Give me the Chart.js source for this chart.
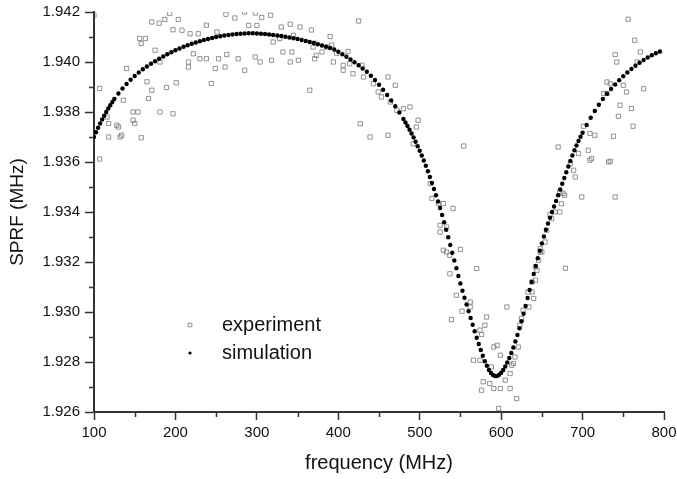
<!DOCTYPE html>
<html>
<head>
<meta charset="utf-8">
<script src="https://cdn.jsdelivr.net/npm/chart.js@4.4.1/dist/chart.umd.min.js"></script>
<style>
  html, body { margin: 0; padding: 0; background: #fff; }
  #wrap { width: 677px; height: 479px; }
</style>
</head>
<body>
<div id="wrap"><canvas id="sprfChart" width="677" height="479"></canvas></div>
<script>
// measured points (open squares)
const expFreq = [
  100, 193, 203.5, 171, 180, 187, 262, 273, 285, 298, 306, 317, 238, 290, 300, 330, 341, 353,
  197, 208, 218, 228, 251, 156, 163, 158, 328, 345, 320, 332, 343, 351, 369, 373, 386, 175,
  222, 230, 238, 253, 263, 277, 298, 304, 318, 341, 181, 216, 216, 140, 249, 261, 285, 107,
  165, 171, 189, 201, 244, 365, 136, 148, 154, 167, 181, 197, 148, 116, 130, 118, 158, 132,
  107, 118, 128, 150, 134,
  425, 367, 390, 392, 398, 412, 371, 380, 371, 394, 406, 414, 429, 406, 418, 431, 461, 470,
  443, 449, 453, 464, 472, 480, 488, 498, 496, 427, 439, 461, 492, 554,
  513, 515, 523, 529, 541, 525, 533, 525, 550, 529, 537, 533, 570, 537, 545, 562, 562, 552,
  539, 582, 576, 595, 599, 566, 574, 588, 607, 578, 586, 576, 591, 599, 611, 605, 611, 619,
  597, 615, 621, 638, 640, 634, 642, 644, 646, 648, 627, 625, 623,
  580, 574, 591, 613, 617, 638,
  672, 678, 674, 666, 662, 672, 660, 699, 740, 656, 654, 650, 679,
  756, 764, 771, 740, 742, 767, 730, 734, 775, 750, 754, 726, 730, 746, 760, 744, 762, 701,
  709, 715, 738, 670, 695, 707, 711, 734, 689, 691, 676,
  685, 732, 709, 648, 642, 633
];
const expSprf = [
  1.94187, 1.94194, 1.94170, 1.94160, 1.94155, 1.94170, 1.94191, 1.94176, 1.94200, 1.94196, 1.94178, 1.94187, 1.94147, 1.94146, 1.94146, 1.94140, 1.94151, 1.94140,
  1.94129, 1.94127, 1.94113, 1.94113, 1.94120, 1.94094, 1.94094, 1.94074, 1.94094, 1.94107, 1.94080, 1.94040, 1.94040, 1.94007, 1.94060, 1.94027, 1.94060, 1.94047,
  1.94033, 1.94013, 1.94013, 1.94013, 1.94030, 1.94013, 1.94020, 1.94000, 1.94007, 1.94000, 1.94000, 1.94000, 1.93980, 1.93974, 1.93974, 1.93980, 1.93967, 1.93894,
  1.93921, 1.93887, 1.93898, 1.93917, 1.93914, 1.93887, 1.93847, 1.93800, 1.93800, 1.93854, 1.93800, 1.93793, 1.93767, 1.93780, 1.93740, 1.93700, 1.93697, 1.93700,
  1.93612, 1.93754, 1.93747, 1.93754, 1.93707,
  1.94164, 1.94128, 1.94102, 1.94068, 1.94035, 1.94042, 1.94075, 1.94040, 1.94013, 1.94000, 1.93987, 1.93993, 1.93987, 1.93967, 1.93953, 1.93940, 1.93940, 1.93907,
  1.93913, 1.93880, 1.93860, 1.93840, 1.93807, 1.93813, 1.93820, 1.93767, 1.93740, 1.93753, 1.93700, 1.93707, 1.93673, 1.93664,
  1.93514, 1.93454, 1.93434, 1.93434, 1.93414, 1.93347, 1.93340, 1.93320, 1.93250, 1.93247, 1.93227, 1.93240, 1.93174, 1.93153, 1.93067, 1.93040, 1.93020, 1.93003,
  1.92970, 1.92980, 1.92910, 1.92867, 1.92827, 1.92807, 1.92807, 1.92780, 1.93020, 1.92721, 1.92714, 1.92687, 1.92694, 1.92694, 1.92694, 1.92727, 1.92754, 1.92654,
  1.92614, 1.92794, 1.92860, 1.93080, 1.93054, 1.93020, 1.93127, 1.93167, 1.93207, 1.93240, 1.93007, 1.92974, 1.92947,
  1.92947, 1.92927, 1.92860, 1.92787, 1.92820, 1.93120,
  1.93480, 1.93467, 1.93433, 1.93400, 1.93373, 1.93400, 1.93390, 1.93460, 1.93460, 1.93327, 1.93280, 1.93240, 1.93175,
  1.94171, 1.94087, 1.94040, 1.94030, 1.94000, 1.94000, 1.93920, 1.93913, 1.93893, 1.93907, 1.93880, 1.93874, 1.93874, 1.93827, 1.93814, 1.93783, 1.93743, 1.93743,
  1.93714, 1.93707, 1.93703, 1.93660, 1.93634, 1.93647, 1.93614, 1.93603, 1.93567, 1.93540, 1.93474,
  1.93594, 1.93600, 1.93607, 1.93253, 1.93180, 1.93080
];

// simulated curve (filled dots)
const simFreq = [
  100, 102.5, 105, 107.5, 110, 112.5, 115, 117.5, 120, 122.5, 125, 130, 135, 140, 145, 150, 155, 160,
  165, 170, 175, 180, 185, 190, 195, 200, 205, 210, 215, 220, 225, 230, 235, 240, 245, 250,
  255, 260, 265, 270, 275, 280, 285, 290, 295, 300, 305, 310, 315, 320, 325, 330, 335, 340,
  345, 350, 355, 360, 365, 370, 375, 380, 385, 390, 395, 400, 405, 410, 415, 420, 425, 430,
  435, 440, 445, 450, 455, 460, 465, 470, 475, 480, 482.5, 485, 487.5, 490, 492.5, 495, 497.5,
  500, 502.5, 505, 507.5, 510, 512.5, 515, 517.5, 520, 522.5, 525, 527.5, 530, 532.5, 535, 537.5,
  540, 542.5, 545, 547.5, 550, 552.5, 555, 557.5, 560, 562.5, 565, 567.5, 570, 572.5, 575, 577.5,
  580, 582.5, 585, 587.5, 590, 592.5, 595, 597.5, 600, 602.5, 605, 607.5, 610, 612.5, 615, 617.5,
  620, 622.5, 625, 627.5, 630, 632.5, 635, 637.5, 640, 642.5, 645, 647.5, 650, 652.5, 655, 657.5,
  660, 662.5, 665, 667.5, 670, 672.5, 675, 677.5, 680, 682.5, 685, 687.5, 690, 692.5, 695, 697.5,
  700, 705, 710, 715, 720, 725, 730, 735, 740, 745, 750, 755, 760, 765, 770, 775, 780, 785, 790, 795
];
const simSprf = [
  1.93700, 1.93719, 1.93737, 1.93754, 1.93770, 1.93785, 1.93800, 1.93814, 1.93827, 1.93840, 1.93852, 1.93874, 1.93894, 1.93912, 1.93929, 1.93944, 1.93958, 1.93971,
  1.93982, 1.93993, 1.94003, 1.94013, 1.94022, 1.94031, 1.94039, 1.94047, 1.94054, 1.94061, 1.94067, 1.94073, 1.94078, 1.94083, 1.94088, 1.94092, 1.94096, 1.94100,
  1.94103, 1.94106, 1.94108, 1.94110, 1.94112, 1.94113, 1.94114, 1.94115, 1.94115, 1.94114, 1.94113, 1.94112, 1.94110, 1.94108, 1.94106, 1.94104, 1.94101, 1.94098,
  1.94095, 1.94092, 1.94088, 1.94084, 1.94080, 1.94076, 1.94071, 1.94066, 1.94061, 1.94056, 1.94050, 1.94041, 1.94031, 1.94021, 1.94010, 1.93999, 1.93987, 1.93974,
  1.93961, 1.93945, 1.93928, 1.93909, 1.93889, 1.93868, 1.93846, 1.93823, 1.93798, 1.93772, 1.93758, 1.93744, 1.93729, 1.93714, 1.93698, 1.93681, 1.93663,
  1.93645, 1.93626, 1.93606, 1.93585, 1.93563, 1.93540, 1.93516, 1.93492, 1.93467, 1.93442, 1.93416, 1.93388, 1.93359, 1.93329, 1.93299, 1.93268,
  1.93237, 1.93206, 1.93175, 1.93144, 1.93114, 1.93085, 1.93057, 1.93030, 1.93003, 1.92976, 1.92949, 1.92923, 1.92897, 1.92872, 1.92848, 1.92825,
  1.92803, 1.92785, 1.92768, 1.92756, 1.92748, 1.92744, 1.92744, 1.92749, 1.92757, 1.92768, 1.92782, 1.92798, 1.92816, 1.92836, 1.92858, 1.92882,
  1.92908, 1.92935, 1.92963, 1.92993, 1.93024, 1.93056, 1.93088, 1.93120, 1.93152, 1.93184, 1.93215, 1.93245, 1.93274, 1.93302, 1.93329, 1.93354,
  1.93377, 1.93400, 1.93422, 1.93444, 1.93467, 1.93490, 1.93513, 1.93536, 1.93559, 1.93582, 1.93604, 1.93626, 1.93647, 1.93666, 1.93684, 1.93701,
  1.93717, 1.93748, 1.93777, 1.93804, 1.93829, 1.93852, 1.93873, 1.93892, 1.93910, 1.93927, 1.93943, 1.93958, 1.93972, 1.93985, 1.93997, 1.94008, 1.94018, 1.94027, 1.94035, 1.94042
];

const xTicks = [100, 200, 300, 400, 500, 600, 700, 800];
const yTicks = [1.926, 1.928, 1.930, 1.932, 1.934, 1.936, 1.938, 1.940, 1.942];
const xMinor = [150, 250, 350, 450, 550, 650, 750];
const yMinor = [1.927, 1.929, 1.931, 1.933, 1.935, 1.937, 1.939, 1.941];
const seriesNames = ['experiment', 'simulation'];

const FONT = "'Liberation Sans', Arial, Helvetica, sans-serif";
const AXIS = '#333';

// short outward minor ticks plus the in-plot legend
const extrasPlugin = {
  id: 'extras',
  afterDraw(chart) {
    const ctx = chart.ctx;
    const xs = chart.scales.x, ys = chart.scales.y;
    const area = chart.chartArea;
    ctx.save();
    ctx.strokeStyle = AXIS;
    ctx.lineWidth = 1.5;
    ctx.beginPath();
    xMinor.forEach(v => {
      const px = Math.round(xs.getPixelForValue(v)) + 0.5;
      ctx.moveTo(px, area.bottom);
      ctx.lineTo(px, area.bottom + 5);
    });
    yMinor.forEach(v => {
      const py = Math.round(ys.getPixelForValue(v)) + 0.5;
      ctx.moveTo(area.left - 5, py);
      ctx.lineTo(area.left, py);
    });
    ctx.stroke();

    // legend
    const rows = [325, 353];
    seriesNames.forEach((name, i) => {
      const ds = chart.data.datasets.find(d => d.label === name);
      ctx.fillStyle = ds.backgroundColor;
      ctx.strokeStyle = ds.borderColor;
      ctx.lineWidth = ds.borderWidth;
      Chart.helpers.drawPoint(ctx, {
        pointStyle: ds.pointStyle,
        radius: ds.pointStyle === 'circle' ? 1.6 : 2.6,
        borderWidth: ds.borderWidth,
        rotation: 0
      }, 190, rows[i]);
      ctx.fillStyle = '#111';
      ctx.font = '20px ' + FONT;
      ctx.textBaseline = 'middle';
      ctx.textAlign = 'left';
      ctx.fillText(name, 222, rows[i]);
    });
    ctx.restore();
  }
};

new Chart(document.getElementById('sprfChart'), {
  type: 'scatter',
  data: {
    datasets: [{
      label: seriesNames[1],
      data: simFreq.map((f, i) => ({ x: f, y: simSprf[i] })),
      pointStyle: 'circle',
      pointRadius: 2.2,
      backgroundColor: '#000',
      borderColor: '#000',
      borderWidth: 0,
      order: 0
    }, {
      label: seriesNames[0],
      data: expFreq.map((f, i) => ({ x: f, y: expSprf[i] })),
      pointStyle: 'rect',
      pointRadius: 3,
      backgroundColor: 'rgba(0,0,0,0)',
      borderColor: '#777',
      borderWidth: 0.8,
      order: 1
    }]
  },
  options: {
    responsive: false,
    animation: false,
    layout: { padding: { top: 12, right: 13, left: 0, bottom: 0 } },
    plugins: {
      legend: { display: false },
      tooltip: { enabled: false }
    },
    scales: {
      x: {
        type: 'linear',
        min: 100,
        max: 800,
        afterBuildTicks: s => { s.ticks = xTicks.map(v => ({ value: v })); },
        afterFit: s => { s.height = 67; s.paddingLeft = 0; s.paddingRight = 0; },
        grid: { drawOnChartArea: false, drawTicks: true, tickLength: 8, tickColor: AXIS, tickWidth: 1.5 },
        border: { display: true, color: AXIS, width: 2 },
        ticks: { color: '#111', padding: 4, font: { family: FONT, size: 15 }, maxRotation: 0 },
        title: { display: true, text: 'frequency (MHz)', color: '#111', padding: { top: 4, bottom: 4 }, font: { family: FONT, size: 20 } }
      },
      y: {
        type: 'linear',
        min: 1.926,
        max: 1.942,
        afterBuildTicks: s => { s.ticks = yTicks.map(v => ({ value: v })); },
        afterFit: s => { s.width = 94; s.paddingTop = 0; s.paddingBottom = 0; },
        grid: { drawOnChartArea: false, drawTicks: true, tickLength: 9, tickColor: AXIS, tickWidth: 1.5 },
        border: { display: true, color: AXIS, width: 2 },
        ticks: { color: '#111', padding: 5, font: { family: FONT, size: 15 }, callback: v => v.toFixed(3) },
        title: { display: true, text: 'SPRF (MHz)', color: '#111', padding: { top: 6, bottom: 0 }, font: { family: FONT, size: 19 } }
      }
    }
  },
  plugins: [extrasPlugin]
});
</script>
</body>
</html>
